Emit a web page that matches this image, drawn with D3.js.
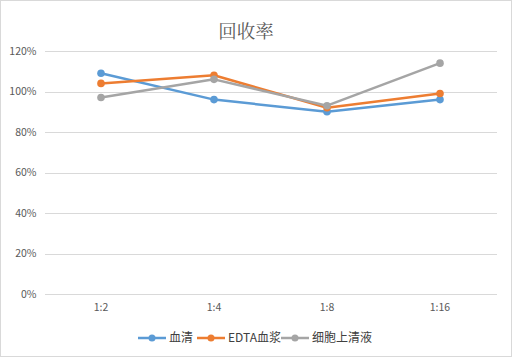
<!DOCTYPE html>
<html>
<head>
<meta charset="utf-8">
<script src="https://cdn.jsdelivr.net/npm/d3@7"></script>
<style>
  body { margin: 0; background: #fff; }
  svg text { font-family: "Microsoft YaHei", "Noto Sans CJK SC", "DejaVu Sans", sans-serif; fill: #595959; }
</style>
</head>
<body>
<div id="chart"></div>
<script>
// data
var categories = ['1:2', '1:4', '1:8', '1:16'];
var serumValues = [1.09, 0.96, 0.90, 0.96];
var edtaValues = [1.04, 1.08, 0.92, 0.99];
var supernatantValues = [0.97, 1.06, 0.93, 1.14];
var yTicks = [0, 0.2, 0.4, 0.6, 0.8, 1.0, 1.2];
var seriesNames = ['血清', 'EDTA血浆', '细胞上清液'];
var seriesColors = ['#5B9BD5', '#ED7D31', '#A5A5A5'];

var series = [serumValues, edtaValues, supernatantValues].map(function(values, i) {
    return { name: seriesNames[i], color: seriesColors[i], values: values };
});

var stage = { width: 513, height: 358 };
var plot = { left: 44.5, right: 496.5, top: 51, bottom: 294 };

var svg = d3.select('#chart')
    .append('svg')
    .attr('width', stage.width)
    .attr('height', stage.height);

// chart border
svg.append('rect')
    .attr('x', 0.5)
    .attr('y', 0.5)
    .attr('width', stage.width - 2)
    .attr('height', stage.height - 2)
    .attr('fill', '#fff')
    .attr('stroke', '#D9D9D9');

var x = d3.scaleBand()
    .domain(categories)
    .range([plot.left, plot.right]);

var y = d3.scaleLinear()
    .domain([0, 1.2])
    .range([plot.bottom, plot.top]);

// gridlines + y labels
var yAxis = d3.axisLeft(y)
    .tickValues(yTicks)
    .tickFormat(d3.format('.0%'))
    .tickSize(-(plot.right - plot.left))
    .tickPadding(8);

var yG = svg.append('g')
    .attr('transform', 'translate(' + plot.left + ',0)')
    .call(yAxis);
yG.select('.domain').remove();
yG.selectAll('line')
    .attr('stroke', '#D9D9D9')
    .attr('shape-rendering', 'crispEdges');
yG.selectAll('text')
    .attr('font-size', 10.5)
    .style('fill', '#595959');

// x labels
var xAxis = d3.axisBottom(x)
    .tickSize(0)
    .tickPadding(10);
var xG = svg.append('g')
    .attr('transform', 'translate(0,' + plot.bottom + ')')
    .call(xAxis);
xG.select('.domain').remove();
xG.selectAll('text')
    .attr('font-size', 10.5)
    .style('fill', '#595959');

// title
svg.append('text')
    .attr('x', 246)
    .attr('y', 38)
    .attr('text-anchor', 'middle')
    .attr('font-size', 18.5)
    .style('font-family', '"Noto Serif CJK SC", "Noto Sans CJK SC", serif')
    .text('回收率');

// lines
var line = d3.line()
    .x(function(d, i) { return x(categories[i]) + x.bandwidth() / 2; })
    .y(function(d) { return y(d); });

var seriesG = svg.append('g').selectAll('g')
    .data(series).enter()
    .append('g');

seriesG.append('path')
    .attr('d', function(d) { return line(d.values); })
    .attr('fill', 'none')
    .attr('stroke', function(d) { return d.color; })
    .attr('stroke-width', 2.5)
    .attr('stroke-linejoin', 'round')
    .attr('stroke-linecap', 'round');

seriesG.selectAll('circle')
    .data(function(d) { return d.values.map(function(v, i) { return { v: v, i: i, color: d.color }; }); })
    .enter()
    .append('circle')
    .attr('cx', function(d) { return x(categories[d.i]) + x.bandwidth() / 2; })
    .attr('cy', function(d) { return y(d.v); })
    .attr('r', 3.8)
    .attr('fill', function(d) { return d.color; });

// legend
var legendX = [138, 197, 281];
var legendY = 338;
var legend = svg.append('g').selectAll('g')
    .data(series).enter()
    .append('g')
    .attr('transform', function(d, i) { return 'translate(' + legendX[i] + ',' + legendY + ')'; });

legend.append('line')
    .attr('x1', 0)
    .attr('x2', 28)
    .attr('stroke', function(d) { return d.color; })
    .attr('stroke-width', 2.5);
legend.append('circle')
    .attr('cx', 14)
    .attr('r', 3.5)
    .attr('fill', function(d) { return d.color; });
legend.append('text')
    .attr('x', 31)
    .attr('dy', '0.35em')
    .attr('font-size', 12)
    .style('fill', '#404040')
    .text(function(d) { return d.name; });
</script>
</body>
</html>
